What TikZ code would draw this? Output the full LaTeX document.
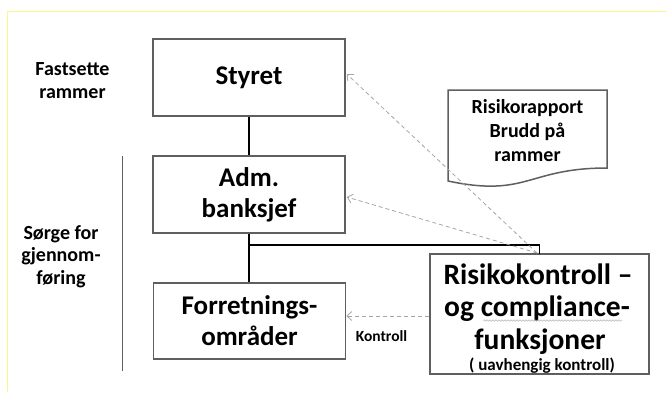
\documentclass[tikz,border=0pt]{standalone}
\usepackage{fontspec}
\setmainfont{Carlito}
\usetikzlibrary{arrows.meta,decorations.pathmorphing,calc}
\definecolor{boxgray}{RGB}{95,95,95}
\definecolor{arrowgray}{RGB}{165,165,165}
\definecolor{yellowline}{RGB}{248,248,140}
\begin{document}
\begin{tikzpicture}[x=1pt,y=-1pt,
  box/.style={draw=boxgray,line width=1.5pt,inner sep=0pt,align=center,
    font=\bfseries\fontsize{27}{31}\selectfont},
  link/.style={line width=1.8pt,black},
  ctrl/.style={draw=arrowgray,line width=0.8pt,dash pattern=on 4pt off 3pt,
    -{Straight Barb[length=5pt,width=9pt]}},
  lbl/.style={inner sep=0pt,align=center,font=\bfseries\fontsize{20}{23}\selectfont},
  rline/.style={inner sep=0pt,anchor=base,font=\bfseries\fontsize{29.5}{33}\selectfont}]
\useasboundingbox (0,0) rectangle (667,392);
\draw[yellowline,line width=0.8pt] (7,392) -- (7,11) -- (667,11);

% side labels
\node[lbl] (fast) at (72.5,81) {Fastsette\\rammer};
\node[lbl,font=\bfseries\fontsize{20}{22.5}\selectfont] (sorge) at (61,256.5) {Sørge for\\gjennom-\\føring};
\draw[boxgray,line width=1pt] (122,156) -- (122,371);

% boxes
\node[box,minimum width=192pt,minimum height=77pt] (styret) at (249,77.5) {Styret};
\node[box,minimum width=192pt,minimum height=77pt] (adm) at (249,194.5) {Adm.\\banksjef};
\node[box,minimum width=192pt,minimum height=76pt] (forr) at (249.5,321) {Forretnings-\\områder};
\node[box,minimum width=219pt,minimum height=120pt] (risk) at (539.5,314) {};
\node[rline] (r1) at (538,284) {Risikokontroll –};
\node[rline] (r2) at (537,316.5) {og compliance-};
\node[rline] (r3) at (540,349) {funksjoner};
\node[rline,font=\bfseries\fontsize{17}{19}\selectfont] (r4) at (542,370) {( uavhengig kontroll)};
\draw[arrowgray!80,line width=0.5pt,decorate,decoration={snake,amplitude=0.8pt,segment length=3pt}]
  (483,320.5) -- (622,320.5);

% document
\draw[boxgray,line width=1.5pt,fill=white] (448,90) -- (607,90) -- (607,168)
  .. controls (527.5,168) and (527.5,197.8) .. (448,181) -- cycle;
\node[lbl,font=\bfseries\fontsize{20}{24}\selectfont] (doc) at (527.5,131) {Risikorapport\\Brudd på\\rammer};

% solid links
\draw[link] (styret.south) -- (adm.north);
\draw[link] (adm.south) -- (adm.south |- forr.north);
\coordinate (j) at (249,245);
\coordinate (rt) at (539.5,254);
\draw[link] (j) -| (rt);

% dashed control arrows
\coordinate (src) at (537,253);
\coordinate (sttip) at ($(styret.east)+(1,-3.5)$);
\coordinate (admtip) at ($(adm.east)+(1,2.5)$);
\coordinate (rw) at ($(risk.west)+(0,2)$);
\draw[ctrl] (src) -- (sttip);
\draw[ctrl] (src) -- (admtip);
\draw[ctrl] (rw) -- (forr.east |- rw);
\node[inner sep=0pt,anchor=base,font=\bfseries\fontsize{15.5}{17}\selectfont] (ktr) at (381.5,341) {Kontroll};
\end{tikzpicture}
\end{document}
